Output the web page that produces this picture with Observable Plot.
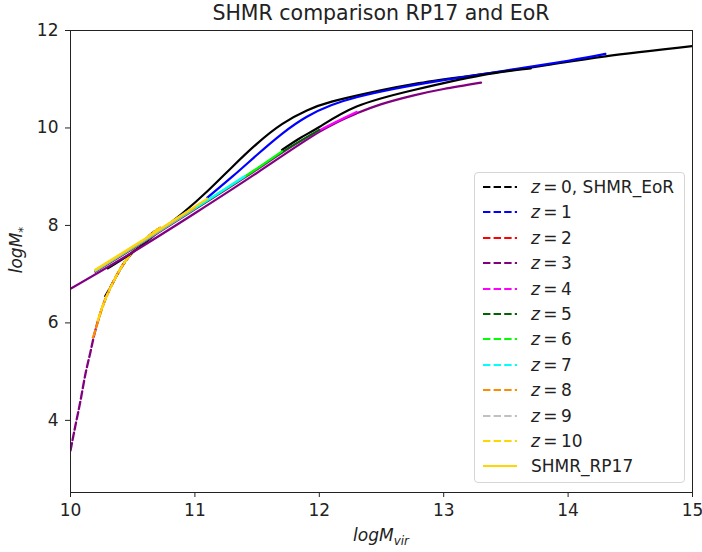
<!DOCTYPE html>
<html>
<head>
<meta charset="utf-8">
<script src="https://cdn.jsdelivr.net/npm/d3@7"></script>
<script src="https://cdn.jsdelivr.net/npm/@observablehq/plot@0.6"></script>
<style>
  html, body { margin: 0; padding: 0; background: #fff; }
  #wrap { position: relative; width: 702px; height: 552px; font-family: "DejaVu Sans", sans-serif; color: #222; }
  #title { position: absolute; left: 70px; width: 622px; top: 1px; text-align: center; font-size: 20.5px; }
  #xlabel { position: absolute; left: 70px; width: 622px; top: 525px; text-align: center; font-size: 17px; font-style: italic; }
  #ylabel { position: absolute; left: 18px; top: 250px; transform: translate(-50%, -50%) rotate(-90deg); font-size: 17px; font-style: italic; white-space: nowrap; }
  sub { font-size: 70%; vertical-align: -0.35em; }
  #legend { position: absolute; left: 474px; top: 172px; width: 211px; height: 311px; border: 1px solid #d6d6d6; border-radius: 4px; background: rgba(255,255,255,0.85); box-sizing: border-box; }
  .row { position: absolute; left: 7px; height: 20px; display: flex; align-items: center; font-size: 17px; white-space: nowrap; }
  .row svg { width: 36px; height: 10px; margin-right: 13px; }
</style>
</head>
<body>
<div id="wrap">
  <div id="title">SHMR comparison RP17 and EoR</div>
  <div id="chart"></div>
  <div id="xlabel">logM<sub>vir</sub></div>
  <div id="ylabel">logM<sub>*</sub></div>
  <div id="legend"></div>
</div>
<script>
// ---- legend / style data ----
const zValues = ["0", "1", "2", "3", "4", "5", "6", "7", "8", "9", "10"];
const zColors = ["black", "blue", "red", "purple", "magenta", "darkgreen", "lime", "cyan", "darkorange", "silver", "gold"];
const rp17Label = "SHMR_RP17";
const rp17Color = "gold";

// ---- axis ticks ----
const xTicks = [10, 11, 12, 13, 14, 15];
const yTicks = [4, 6, 8, 10, 12];

// ---- SHMR_EoR (dashed) curves ----
const eorZ0_x = [10.28, 10.35, 10.46, 10.62, 10.72];
const eorZ0_y = [6.55, 6.87, 7.33, 7.76, 7.95];
const eorZ3_x = [10.0, 10.04, 10.08, 10.12, 10.16, 10.2, 10.27, 10.35, 10.46, 10.62, 10.72];
const eorZ3_y = [3.38, 3.9, 4.4, 4.95, 5.4, 5.85, 6.42, 6.87, 7.33, 7.76, 7.95];
const eorZ8_x = [10.18, 10.2, 10.27, 10.35, 10.46, 10.62, 10.72];
const eorZ8_y = [5.7, 5.85, 6.42, 6.87, 7.33, 7.76, 7.95];
const eorZ10_x = [10.22, 10.27, 10.35, 10.46, 10.62, 10.72];
const eorZ10_y = [6.05, 6.42, 6.87, 7.33, 7.76, 7.95];

// ---- SHMR_RP17 (solid) curves ----
const rpZ0_x = [10.3, 10.5, 10.7, 10.9, 11.1, 11.3, 11.5, 11.7, 11.9, 12.1, 12.4, 12.8, 13.3, 13.8, 14.3, 15.0];
const rpZ0_y = [7.12, 7.45, 7.85, 8.25, 8.7, 9.2, 9.68, 10.08, 10.36, 10.54, 10.72, 10.92, 11.1, 11.28, 11.47, 11.68];
const rpZ1_x = [11.1, 11.3, 11.5, 11.7, 11.9, 12.1, 12.3, 12.6, 13.0, 13.5, 14.0, 14.3];
const rpZ1_y = [8.57, 9.0, 9.45, 9.88, 10.23, 10.47, 10.63, 10.8, 10.98, 11.18, 11.38, 11.52];
const rpZ2_x = [11.7, 11.85, 12.0, 12.3, 12.76, 13.3, 13.7];
const rpZ2_y = [9.55, 9.8, 10.02, 10.44, 10.78, 11.08, 11.22];
const rpZ3_x = [10.0, 10.5, 11.0, 11.5, 12.0, 12.3, 12.5, 12.76, 13.0, 13.3];
const rpZ3_y = [6.7, 7.45, 8.25, 9.08, 9.92, 10.3, 10.49, 10.67, 10.8, 10.93];
const rpZ4_x = [10.2, 10.6, 11.0, 11.4, 11.7, 12.0, 12.3];
const rpZ4_y = [7.05, 7.68, 8.33, 8.98, 9.49, 9.95, 10.33];
const rpZ5_x = [10.2, 10.6, 11.0, 11.4, 11.7, 12.0];
const rpZ5_y = [7.06, 7.69, 8.34, 8.99, 9.5, 9.96];
const rpZ6_x = [10.2, 10.6, 11.0, 11.4, 11.7];
const rpZ6_y = [7.07, 7.7, 8.35, 9.0, 9.52];
const rpZ7_x = [10.2, 10.6, 11.0, 11.4];
const rpZ7_y = [7.07, 7.7, 8.35, 9.01];
const rpZ8_x = [10.2, 10.6, 11.0];
const rpZ8_y = [7.08, 7.71, 8.37];
const rpZ9_x = [10.2, 10.6, 10.95];
const rpZ9_y = [7.08, 7.72, 8.3];
const rpZ10_x = [10.2, 10.6, 11.1];
const rpZ10_y = [7.09, 7.73, 8.55];

const toRows = (xs, ys) => xs.map((x, i) => ({x, y: ys[i]}));

const eor = [
  [eorZ0_x, eorZ0_y, zColors[0]],
  [eorZ3_x, eorZ3_y, zColors[3]],
  [eorZ8_x, eorZ8_y, zColors[8]],
  [eorZ10_x, eorZ10_y, zColors[10]]
];
const rp = [
  [rpZ0_x, rpZ0_y, zColors[0]],
  [rpZ1_x, rpZ1_y, zColors[1]],
  [rpZ3_x, rpZ3_y, zColors[3]],
  [rpZ2_x, rpZ2_y, zColors[0]],
  [rpZ4_x, rpZ4_y, zColors[4]],
  [rpZ5_x, rpZ5_y, zColors[5]],
  [rpZ6_x, rpZ6_y, zColors[6]],
  [rpZ7_x, rpZ7_y, zColors[7]],
  [rpZ8_x, rpZ8_y, zColors[8]],
  [rpZ9_x, rpZ9_y, zColors[9]],
  [rpZ10_x, rpZ10_y, rp17Color]
];

const marks = [];
for (const [xs, ys, c] of eor) {
  marks.push(Plot.line(toRows(xs, ys), {x: "x", y: "y", stroke: c, strokeWidth: 2.3, strokeDasharray: "7.4,3.2", curve: "natural", clip: true}));
}
for (const [xs, ys, c] of rp) {
  marks.push(Plot.line(toRows(xs, ys), {x: "x", y: "y", stroke: c, strokeWidth: 2.2, curve: "natural", clip: true}));
}

const chart = Plot.plot({
  width: 702,
  height: 552,
  marginLeft: 70,
  marginRight: 10,
  marginTop: 30,
  marginBottom: 60,
  style: {fontFamily: "DejaVu Sans", fontSize: "17px", color: "#222", background: "transparent", overflow: "visible"},
  x: {domain: [10, 15]},
  y: {domain: [2.52, 12]},
  marks: [
    ...marks,
    Plot.frame({stroke: "#222", strokeWidth: 1}),
    Plot.axisX({ticks: xTicks, tickFormat: d => String(d), tickSize: 5, tickPadding: 6, label: null, stroke: "#222", fill: "#222", fontSize: 17}),
    Plot.axisY({ticks: yTicks, tickFormat: d => String(d), tickSize: 5, tickPadding: 7, label: null, stroke: "#222", fill: "#222", fontSize: 17})
  ]
});
document.getElementById("chart").appendChild(chart);

// ---- legend ----
const legend = document.getElementById("legend");
const entries = zValues.map((z, i) => ({
  html: `<i>z</i>&#8201;=&#8201;${z}` + (i === 0 ? ", SHMR_EoR" : ""),
  color: zColors[i], dash: "7.4,3.2"
}));
entries.push({html: rp17Label, color: rp17Color, dash: null});
entries.forEach((e, i) => {
  const row = document.createElement("div");
  row.className = "row";
  row.style.top = (4 + i * 25.4) + "px";
  row.innerHTML = `<svg viewBox="0 0 36 10"><line x1="1" x2="35" y1="5" y2="5" stroke="${e.color}" stroke-width="2" ${e.dash ? `stroke-dasharray="${e.dash}"` : ""}/></svg><span>${e.html}</span>`;
  legend.appendChild(row);
});
</script>
</body>
</html>
